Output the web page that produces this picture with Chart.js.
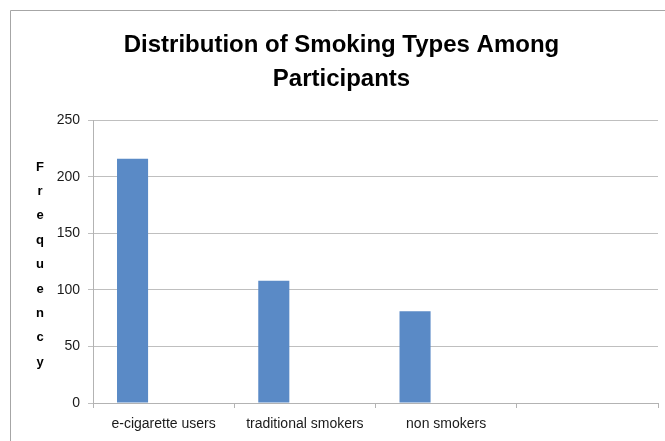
<!DOCTYPE html>
<html>
<head>
<meta charset="utf-8">
<script src="https://cdn.jsdelivr.net/npm/chart.js@4"></script>
<style>
  html, body { margin: 0; padding: 0; background: #fff; }
  #wrap { width: 665px; height: 441px; position: relative; }
</style>
</head>
<body>
<div id="wrap"><canvas id="smokingChart" width="665" height="441"></canvas></div>
<script>
const categories = ['e-cigarette users', 'traditional smokers', 'non smokers', ''];
const frequency = [216, 108, 81, null];
const emptySeries = [null, null, null, null];
const yTicks = [0, 50, 100, 150, 200, 250];
const chartTitle = ['Distribution of Smoking Types Among', 'Participants'];
const yTitle = 'Frequency';

// frame of the chart object and stacked letters of the y title
const framePlugin = {
    id: 'frame',
    beforeDraw(chart) {
        const ctx = chart.ctx;
        ctx.save();
        ctx.strokeStyle = '#a6a6a6';
        ctx.lineWidth = 1;
        ctx.beginPath();
        ctx.moveTo(10.5, 441);
        ctx.lineTo(10.5, 10.5);
        ctx.lineTo(665, 10.5);
        ctx.stroke();
        ctx.restore();
    },
    afterDraw(chart) {
        const ctx = chart.ctx;
        ctx.save();
        ctx.fillStyle = '#000';
        ctx.font = 'bold 13px "Liberation Sans"';
        ctx.textAlign = 'center';
        ctx.textBaseline = 'middle';
        const letters = yTitle.split('');
        for (let i = 0; i < letters.length; i++) {
            ctx.fillText(letters[i], 40, 167 + i * 24.4);
        }
        ctx.restore();
    }
};

const ctx = document.getElementById('smokingChart').getContext('2d');
const chart = new Chart(ctx, {
    type: 'bar',
    data: {
        labels: categories,
        datasets: [{
            label: 'Frequency',
            data: frequency,
            backgroundColor: '#5a8ac6',
            borderWidth: 0,
            categoryPercentage: 0.88,
            barPercentage: 0.5
        }, {
            label: '',
            data: emptySeries,
            backgroundColor: '#c0504d',
            categoryPercentage: 0.88,
            barPercentage: 0.5
        }]
    },
    options: {
        responsive: false,
        animation: false,
        layout: { padding: { left: 25, right: 7, top: 0, bottom: 0 } },
        plugins: {
            legend: { display: false },
            tooltip: { enabled: false },
            title: {
                display: true,
                text: chartTitle,
                color: '#000',
                font: { family: '"Liberation Sans"', size: 24, weight: 'bold', lineHeight: 1.42 },
                padding: { top: 28, bottom: 24 }
            }
        },
        scales: {
            x: {
                grid: {
                    offset: true,
                    drawOnChartArea: false,
                    drawTicks: true,
                    tickLength: 5,
                    color: '#b3b3b3'
                },
                border: { display: true, color: '#b3b3b3' },
                ticks: {
                    color: '#1a1a1a',
                    font: { family: '"Liberation Sans"', size: 14 },
                    padding: 8,
                    maxRotation: 0,
                    autoSkip: false
                },
                afterFit(scale) { scale.height = 38; }
            },
            y: {
                min: 0,
                max: 250,
                afterBuildTicks(scale) { scale.ticks = yTicks.map(v => ({ value: v })); },
                grid: {
                    color: '#bfbfbf',
                    drawTicks: true,
                    tickLength: 5
                },
                border: { display: true, color: '#b3b3b3' },
                ticks: {
                    color: '#1a1a1a',
                    font: { family: '"Liberation Sans"', size: 14 },
                    padding: 8
                },
                afterFit(scale) { scale.width = 68; }
            }
        }
    },
    plugins: [framePlugin]
});
</script>
</body>
</html>
